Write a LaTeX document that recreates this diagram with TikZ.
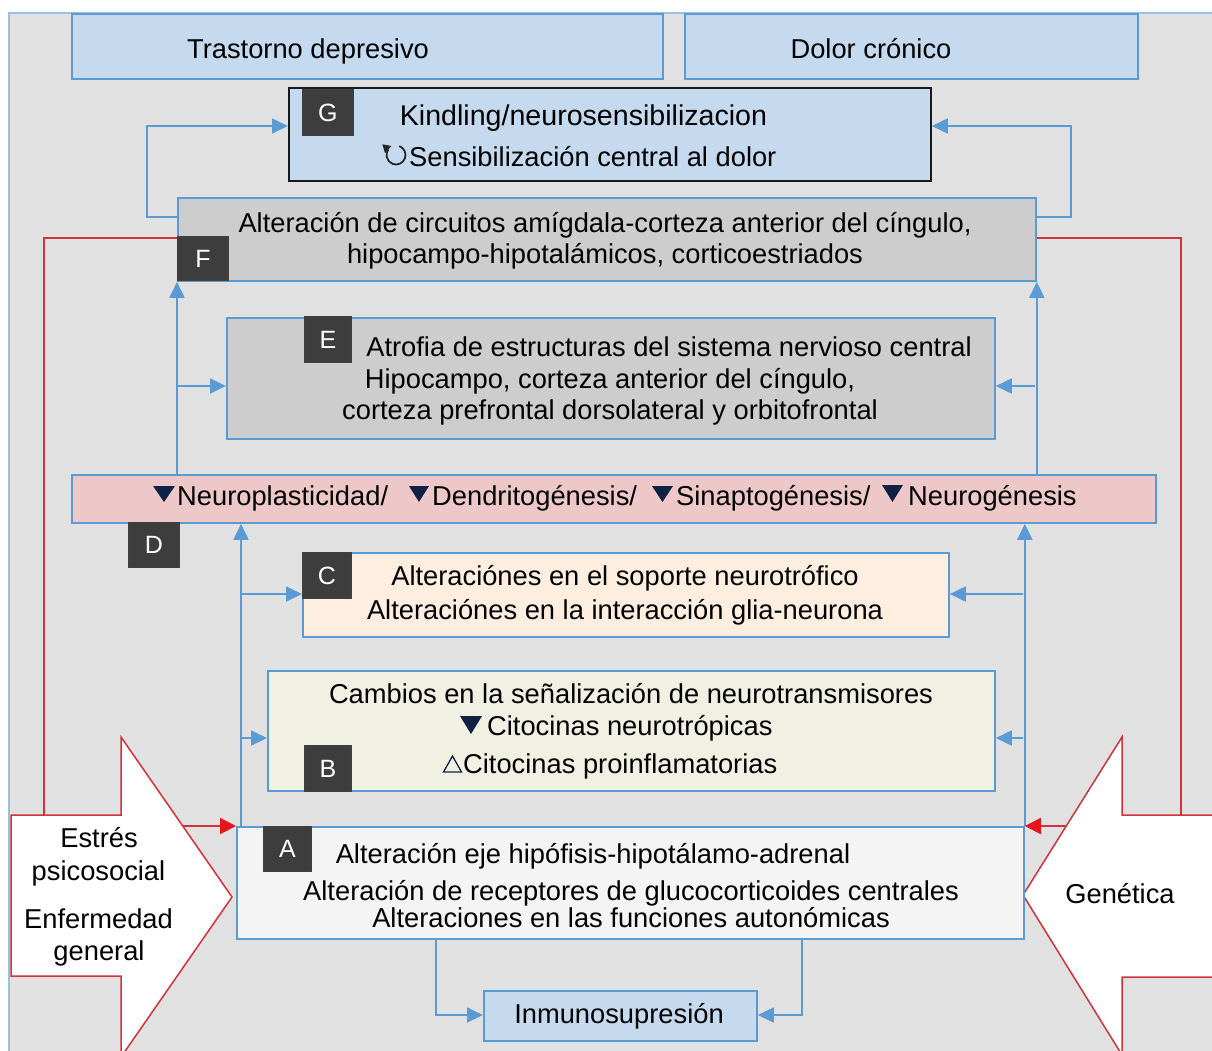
\documentclass[tikz,border=0pt]{standalone}
\usepackage{fontspec}
\setmainfont{Liberation Sans}
\usetikzlibrary{arrows.meta,calc}
\definecolor{bgc}{HTML}{E1E1E1}
\definecolor{bgb}{HTML}{9DBFE3}
\definecolor{bline}{HTML}{5B9BD5}
\definecolor{lblue}{HTML}{C5DAEE}
\definecolor{gboxc}{HTML}{CDCDCD}
\definecolor{pinkd}{HTML}{EEC8C9}
\definecolor{peach}{HTML}{FDEEE0}
\definecolor{cream}{HTML}{F0F1E2}
\definecolor{aboxc}{HTML}{F4F4F4}
\definecolor{labc}{HTML}{3D3D3D}
\definecolor{redl}{HTML}{D2323A}
\definecolor{redh}{HTML}{E8141C}
\definecolor{navy}{HTML}{102243}
\begin{document}
\begin{tikzpicture}[x=1pt,y=-1pt,
 box/.style={draw=bline, line width=1.8pt, inner sep=0pt, anchor=north west},
 labbox/.style={fill=labc, draw=black!75, line width=0.8pt, inner sep=0pt, anchor=north west, text=white, font=\fontsize{25}{30}\selectfont},
 txt/.style={inner sep=0pt, anchor=base, font=\fontsize{27.3}{32}\selectfont, text=black},
 txtw/.style={txt, anchor=base west},
 bl/.style={draw=bline, line width=1.8pt},
 ba/.style={bl, -{Triangle[length=16pt,width=15pt]}},
 rl/.style={draw=redl, line width=1.8pt},
 ra/.style={rl, -{Triangle[length=16pt,width=16pt,color=redh]}},
 bigarrow/.style={draw=redl, fill=white, line width=1.5pt, line join=miter},
 tri/.style={fill=navy},
]
\clip (0,0) rectangle (1212,1050);
\fill[white] (0,0) rectangle (1212,1050);
\draw[fill=bgc, draw=bgb, line width=1.5pt] (9,13) rectangle (1220,1060);

% big arrows
\draw[bigarrow] (11,815) -- (121,815) -- (121,737) -- (232,897) -- (121,1057) -- (121,976) -- (11,976) -- cycle;
\draw[bigarrow] (1230,815) -- (1122,815) -- (1122,737) -- (1023,895) -- (1122,1055) -- (1122,977) -- (1230,977) -- cycle;

% boxes
\node[box, fill=lblue, minimum width=591pt, minimum height=65pt] (TD) at (71,13) {};
\node[box, fill=lblue, minimum width=453pt, minimum height=65pt] (DC) at (684,13) {};
\node[box, fill=lblue, draw=black!90, minimum width=642pt, minimum height=93pt] (G) at (288,87) {};
\node[box, fill=gboxc, minimum width=858pt, minimum height=83pt] (F) at (177,197) {};
\node[box, fill=gboxc, minimum width=768pt, minimum height=121pt] (E) at (226,317) {};
\node[box, fill=pinkd, minimum width=1084pt, minimum height=48pt] (D) at (71,474) {};
\node[box, fill=peach, minimum width=646pt, minimum height=84pt] (C) at (302,552) {};
\node[box, fill=cream, minimum width=727pt, minimum height=120pt] (B) at (267,670) {};
\node[box, fill=aboxc, minimum width=787pt, minimum height=112pt] (A) at (236,826) {};
\node[box, fill=lblue, minimum width=273pt, minimum height=50pt] (I) at (483,990) {};

% named points
\coordinate (fl) at (147,126);
\coordinate (fr) at (1071,126);
\coordinate (el) at (177,386);
\coordinate (er) at (1035,386);
\coordinate (al) at (241,826);
\coordinate (cl) at (241,594);
\coordinate (bll) at (241,738);
\coordinate (cr) at (1023,594);
\coordinate (brr) at (1023,738);
\coordinate (il) at (436,1015);
\coordinate (ir) at (802,1015);
\coordinate (rl1) at (44,238);
\coordinate (rl2) at (44,815);
\coordinate (rr1) at (1181,238);
\coordinate (rr2) at (1181,815);
\coordinate (lh) at (183,826);
\coordinate (rh) at (1066,826);

% blue connectors
\draw[ba] ($(F.north west)+(0,20)$) -| (fl) -- (G.west |- fl);
\draw[ba] ($(F.north east)+(0,20)$) -| (fr) -- (G.east |- fr);
\draw[ba] (D.north -| F.south west) -- (F.south west);
\draw[ba] (D.north -| F.south east) -- (F.south east);
\draw[ba] (el) -- (E.west |- el);
\draw[ba] (er) -- (E.east |- er);
\draw[ba] (al) -- (D.south -| al);
\draw[ba] (A.north east) -- (D.south -| A.north east);
\draw[ba] (cl) -- (C.west |- cl);
\draw[ba] (bll) -- (B.west |- bll);
\draw[ba] (cr) -- (C.east |- cr);
\draw[ba] (brr) -- (B.east |- brr);
\draw[ba] (A.south -| il) |- (I.west |- il);
\draw[ba] (A.south -| ir) |- (I.east |- ir);

% red connectors
\draw[rl] (rl2) -- (rl1) -- (F.west |- rl1);
\draw[rl] (rr2) -- (rr1) -- (F.east |- rr1);
\draw[ra] (lh) -- (A.north west);
\draw[ra] (rh) -- (A.north east);

% labels
\node[labbox, minimum width=51pt, minimum height=46pt] (Gl) at (302,89) {G};
\node[labbox, minimum width=51pt, minimum height=44pt] (Fl) at (177,236) {F};
\node[labbox, minimum width=47pt, minimum height=46pt] (El) at (304,316) {E};
\node[labbox, minimum width=51pt, minimum height=45pt] (Dl) at (128,522) {D};
\node[labbox, minimum width=49pt, minimum height=46pt] (Cl) at (302,552) {C};
\node[labbox, minimum width=47pt, minimum height=46pt] (Bl) at (304,745) {B};
\node[labbox, minimum width=48pt, minimum height=45pt] (Al) at (263,826) {A};

% texts
\node[txt] (tTD) at (308,58) {Trastorno depresivo};
\node[txt] (tDC) at (871,58) {Dolor crónico};
\node[txt, font=\fontsize{28.6}{32}\selectfont] (tG1) at (583.5,125) {Kindling/neurosensibilizacion};
\node[txtw] (tG2) at (409,166) {Sensibilización central al dolor};
\draw[line width=1.8pt, black!85]
  ($(396,155)+(-70:9.5)$) arc[start angle=-70, end angle=215, radius=9.5];
\draw[line width=1.8pt, black!85, -{Triangle[length=8pt,width=9pt]}]
  ($(396,155)+(215:9.5)$) -- ++(222:8);
\node[txt] (tF1) at (605,232) {Alteración de circuitos amígdala-corteza anterior del cíngulo,};
\node[txt] (tF2) at (605,263) {hipocampo-hipotalámicos, corticoestriados};
\node[txt] (tE1) at (669,356) {Atrofia de estructuras del sistema nervioso central};
\node[txt] (tE2) at (610,388) {Hipocampo, corteza anterior del cíngulo,};
\node[txt] (tE3) at (610,419) {corteza prefrontal dorsolateral y orbitofrontal};
\node[txtw] (tD1) at (177,505) {Neuroplasticidad/};
\node[txtw] (tD2) at (432,505) {Dendritogénesis/};
\node[txtw] (tD3) at (676,505) {Sinaptogénesis/};
\node[txtw] (tD4) at (908,505) {Neurogénesis};
\fill[tri] (153,486) -- (175,486) -- (164,502) -- cycle;
\fill[tri] (409,486) -- (429,486) -- (419,502) -- cycle;
\fill[tri] (652,486) -- (673,486) -- (662.5,502) -- cycle;
\fill[tri] (882,485) -- (903,485) -- (892.5,502) -- cycle;
\node[txt] (tC1) at (625,585) {Alteraciónes en el soporte neurotrófico};
\node[txt] (tC2) at (625,619) {Alteraciónes en la interacción glia-neurona};
\node[txt] (tB1) at (631,703) {Cambios en la señalización de neurotransmisores};
\node[txtw] (tB2) at (487,735) {Citocinas neurotrópicas};
\fill[tri] (460,716) -- (482,716) -- (471,734) -- cycle;
\node[txtw] (tB3) at (463,773) {Citocinas proinflamatorias};
\draw[navy, line width=1.3pt, line join=miter] (443.5,772) -- (461.5,772) -- (452.5,756) -- cycle;
\node[txt] (tA1) at (593,863) {Alteración eje hipófisis-hipotálamo-adrenal};
\node[txt] (tA2) at (631,900) {Alteración de receptores de glucocorticoides centrales};
\node[txt] (tA3) at (631,927) {Alteraciones en las funciones autonómicas};
\node[txt] (tI) at (619,1023) {Inmunosupresión};
\node[txt] (tL1) at (99,847) {Estrés};
\node[txt] (tL2) at (98.5,880) {psicosocial};
\node[txt] (tL3) at (98.5,928) {Enfermedad};
\node[txt] (tL4) at (99,960) {general};
\node[txt] (tR) at (1120,903) {Genética};
\end{tikzpicture}
\end{document}
